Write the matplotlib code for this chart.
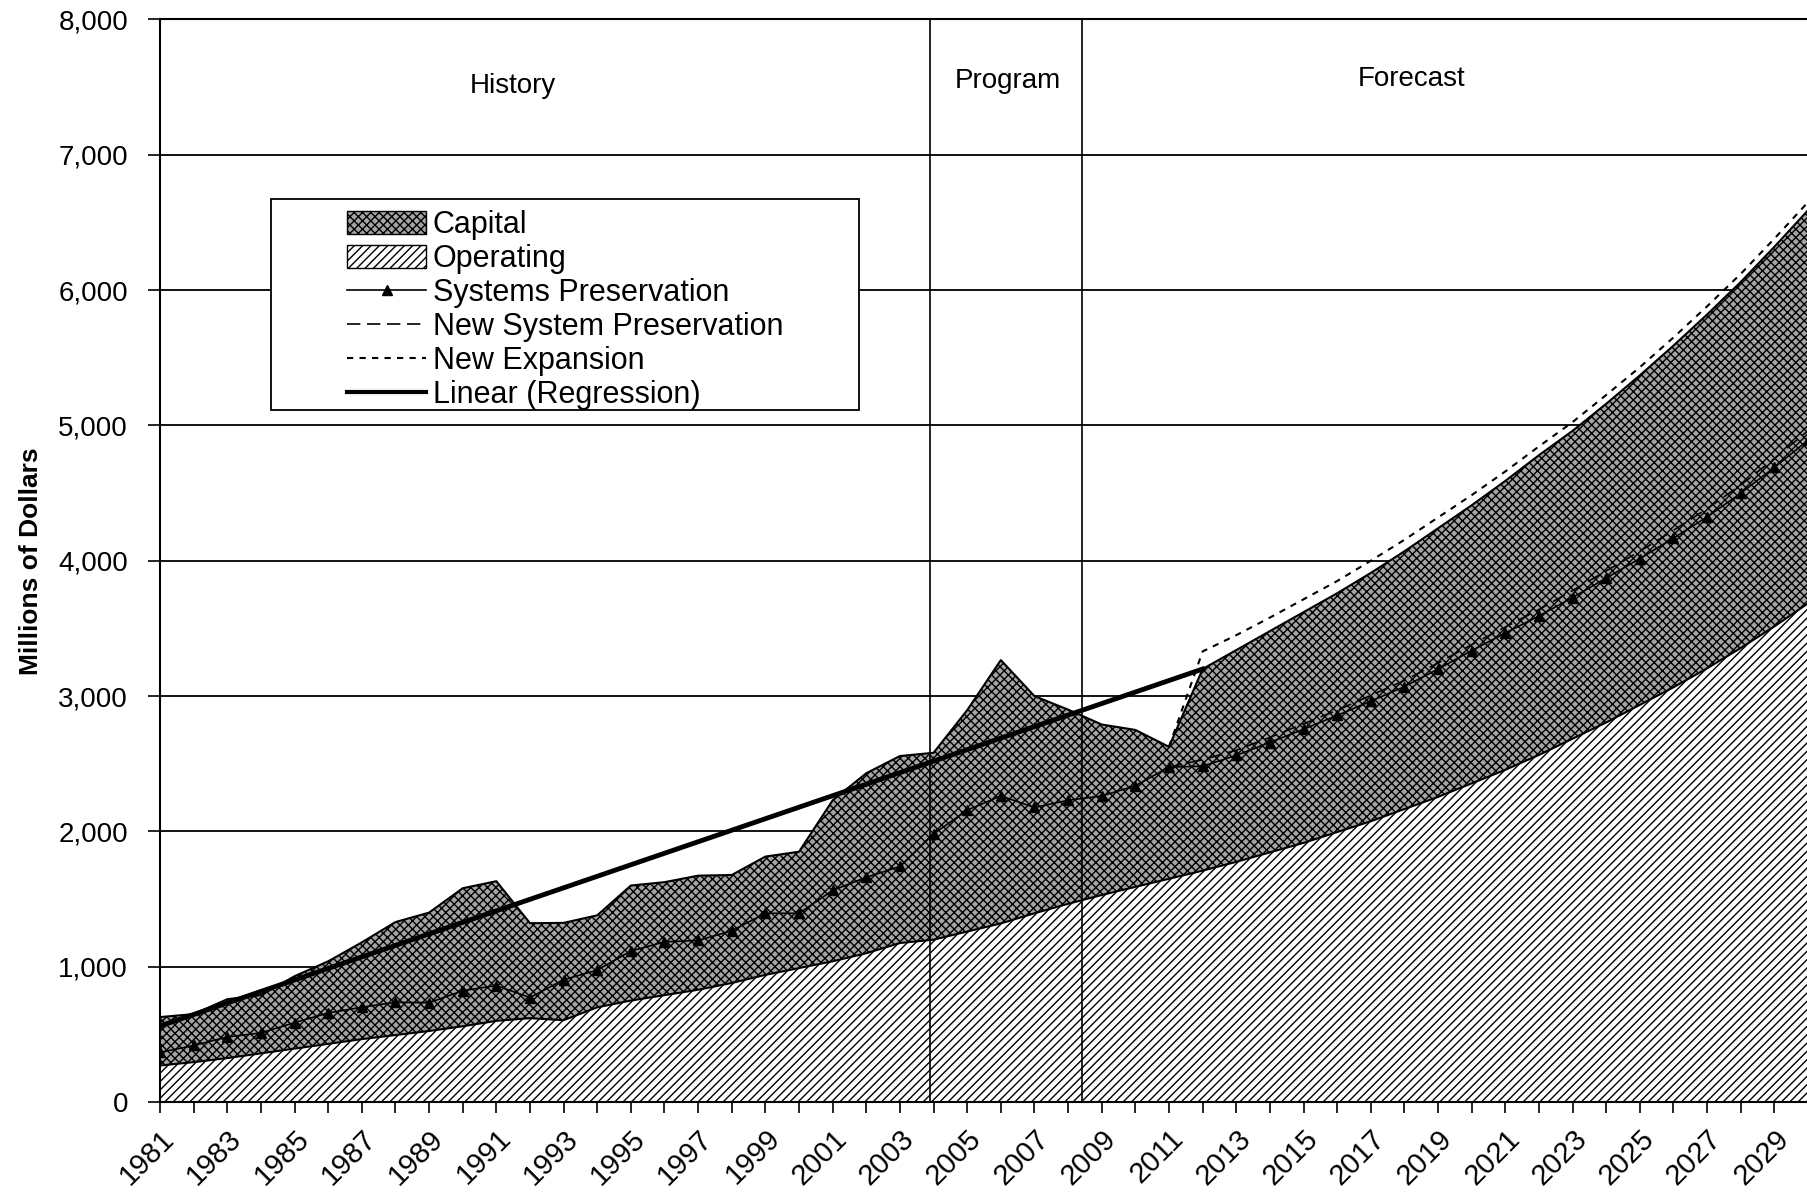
import matplotlib
matplotlib.use("Agg")
import matplotlib.pyplot as plt
from matplotlib.patches import Patch, Rectangle
from matplotlib.lines import Line2D
from matplotlib.ticker import FuncFormatter, MultipleLocator

plt.rcParams['font.family'] = ['Liberation Sans', 'DejaVu Sans']
plt.rcParams['hatch.linewidth'] = 1.0

# dados (milhoes de dolares)
years = list(range(1981, 2031))

operating = [270, 295, 325, 360, 395, 430, 465, 495, 525, 560,
             600, 620, 605, 700, 750, 790, 830, 880, 940, 990,
             1040, 1100, 1175, 1200, 1260, 1320, 1395, 1465, 1530, 1590,
             1650, 1710, 1775, 1845, 1915, 1995, 2075, 2165, 2255, 2355,
             2455, 2565, 2685, 2805, 2935, 3065, 3205, 3355, 3515, 3685]

capital = [358, 355, 435, 430, 535, 610, 715, 835, 875, 1020,
           1032, 702, 719, 680, 850, 835, 843, 798, 874, 860,
           1190, 1330, 1382, 1381, 1636, 1946, 1605, 1435, 1260, 1160,
           975, 1490, 1565, 1635, 1705, 1765, 1835, 1905, 1985, 2055,
           2135, 2215, 2275, 2355, 2435, 2525, 2615, 2705, 2805, 2905]

systems_pres = [367, 418, 481, 511, 587, 658, 701, 737, 734, 823,
                861, 772, 904, 975, 1116, 1184, 1194, 1266, 1395, 1395,
                1564, 1661, 1741, 1981, 2157, 2262, 2177, 2230, 2262, 2337,
                2475, 2482, 2562, 2657, 2755, 2857, 2962, 3070, 3200, 3336,
                3466, 3592, 3728, 3872, 4016, 4167, 4324, 4499, 4690, 4890]

new_years = list(range(2011, 2031))
new_sys_pres = [2475, 2530, 2600, 2695, 2795, 2895, 3005, 3115, 3245, 3380,
                3510, 3640, 3780, 3925, 4070, 4225, 4385, 4560, 4755, 4960]
new_expansion = [2625, 3330, 3450, 3580, 3715, 3850, 4000, 4155, 4320, 4485,
                 4660, 4845, 5025, 5225, 5430, 5650, 5880, 6120, 6380, 6650]

reg_years = [1981, 2012]
regression = [562, 3200]

period_lines = [2003.9, 2008.4]
period_labels = ['History', 'Program', 'Forecast']
period_label_x = [1991.5, 2006.2, 2018.2]
period_label_y = [7510, 7545, 7560]

total = [o + c for o, c in zip(operating, capital)]

CAP_FACE = '#a4a4a4'

fig = plt.figure(figsize=(18.08, 11.94), dpi=100)
ax = fig.add_axes([0.0885, 0.077, 0.9115, 0.9067])

# areas empilhadas
ax.fill_between(years, 0, operating, facecolor='white', edgecolor='black',
                hatch='////', linewidth=0, zorder=2)
ax.fill_between(years, operating, total, facecolor=CAP_FACE, edgecolor='black',
                hatch='xxxx', linewidth=0, zorder=2)
ax.plot(years, operating, color='black', lw=1.5, zorder=3)
ax.plot(years, total, color='black', lw=1.5, zorder=3)

# linhas
ax.plot(years, systems_pres, color='black', lw=1.2, marker='^', markersize=7, zorder=5)
ax.plot(new_years, new_sys_pres, color='black', lw=1.2, dashes=(8, 4), zorder=4)
ax.plot(new_years, new_expansion, color='black', lw=1.5, dashes=(3, 3), zorder=4)
ax.plot(reg_years, regression, color='black', lw=3.5, zorder=6)

for xv in period_lines:
    ax.axvline(xv, color='black', lw=1.2, zorder=4)
for lab, xv, yv in zip(period_labels, period_label_x, period_label_y):
    ax.text(xv, yv, lab, fontsize=20, ha='center', va='center')

# eixos
ax.set_xlim(1981, 2029.65)
ax.set_ylim(0, 8000)
ax.yaxis.set_major_locator(MultipleLocator(1000))
ax.yaxis.set_major_formatter(FuncFormatter(lambda v, p: f'{int(v):,}'))
ax.grid(axis='y', color='black', lw=1.3, zorder=1)
ax.set_axisbelow(True)

ax.set_xticks(range(1981, 2030, 2))
ax.set_xticklabels([str(y) for y in range(1981, 2030, 2)], rotation=45,
                   ha='right', va='top', rotation_mode='anchor')
ax.set_xticks(range(1982, 2031, 2), minor=True)
ax.tick_params(axis='x', which='both', length=8, width=1.2, labelsize=21, pad=8)
ax.tick_params(axis='y', length=9, width=1.2, labelsize=20, pad=14)

ax.spines['right'].set_visible(False)
for s in ['left', 'bottom', 'top']:
    ax.spines[s].set_linewidth(1.5)

ax.set_ylabel('Millions of Dollars', fontsize=19, fontweight='bold')
ax.yaxis.set_label_coords(-0.071, 0.5)

# legenda
handles = [
    Patch(facecolor=CAP_FACE, edgecolor='black', hatch='xxxx', lw=1),
    Patch(facecolor='white', edgecolor='black', hatch='////', lw=1),
    Line2D([], [], color='black', lw=1.2, marker='^', markersize=7),
    Line2D([], [], color='black', lw=1.2, dashes=(8, 4)),
    Line2D([], [], color='black', lw=1.5, dashes=(3, 3)),
    Line2D([], [], color='black', lw=3),
]
labels = ['Capital', 'Operating', 'Systems Preservation', 'New System Preservation',
          'New Expansion', 'Linear (Regression)']
fig.legend(handles, labels, loc='upper left', bbox_to_anchor=(347 / 1808, 1 - 210 / 1194),
           frameon=False, fontsize=22, handlelength=2.6, handleheight=0.75,
           handletextpad=0.2, labelspacing=0.13, borderpad=0, borderaxespad=0)
fig.patches.append(Rectangle((271 / 1808, 1 - 410 / 1194), 588 / 1808, 211 / 1194,
                             transform=fig.transFigure, facecolor='white',
                             edgecolor='black', lw=1.3, zorder=0.5))

fig.savefig('out.png', dpi=100)
